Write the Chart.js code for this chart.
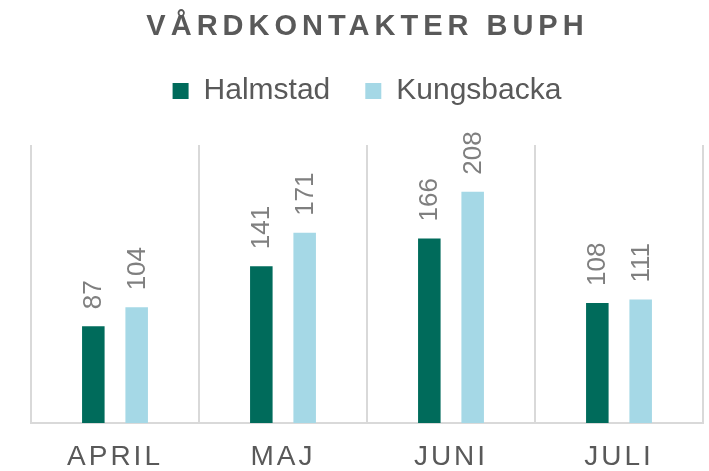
<!DOCTYPE html>
<html>
<head>
<meta charset="utf-8">
<script src="https://cdn.jsdelivr.net/npm/chart.js@4"></script>
<style>
  html, body { margin: 0; padding: 0; background: #fff; }
  #wrap { width: 709px; height: 471px; }
</style>
</head>
<body>
<div id="wrap"><canvas id="chart"></canvas></div>
<script>
// Data
const chartTitle = 'VÅRDKONTAKTER BUPH';
const months = ['APRIL', 'MAJ', 'JUNI', 'JULI'];
const seriesNames = ['Halmstad', 'Kungsbacka'];
const halmstad = [87, 141, 166, 108];
const kungsbacka = [104, 171, 208, 111];
const seriesColors = ['#006b5b', '#a5d8e6'];

const FONT = '"Liberation Sans", Arial, sans-serif';

// Rotated value labels, spaced month labels and the spaced title
const extrasPlugin = {
    id: 'extras',
    beforeLayout(chart) {
        // leave a gap between the legend and the plot
        const legend = chart.legend;
        if (legend && !legend._patched) {
            const fit = legend.fit;
            legend.fit = function () {
                fit.call(this);
                this.height += 29;
            };
            legend._patched = true;
        }
    },
    beforeDraw(chart) {
        chart.ctx.letterSpacing = '0px';
    },
    afterDatasetsDraw(chart) {
        const ctx = chart.ctx;
        ctx.save();
        ctx.font = '26px ' + FONT;
        ctx.fillStyle = '#7f7f7f';
        ctx.textAlign = 'left';
        ctx.textBaseline = 'middle';
        chart.data.datasets.forEach((ds, i) => {
            chart.getDatasetMeta(i).data.forEach((bar, j) => {
                ctx.save();
                ctx.translate(bar.x + 1, bar.y - 17);
                ctx.rotate(-Math.PI / 2);
                ctx.fillText(String(ds.data[j]), 0, 0);
                ctx.restore();
            });
        });
        ctx.restore();
        // month labels are drawn after this (ticks.z = 1)
        ctx.letterSpacing = '3px';
    },
    afterDraw(chart) {
        const ctx = chart.ctx;
        ctx.letterSpacing = '0px';
        ctx.save();
        ctx.font = 'bold 29px ' + FONT;
        ctx.letterSpacing = '5px';
        ctx.fillStyle = '#595959';
        ctx.textBaseline = 'middle';
        ctx.textAlign = 'left';
        const w = ctx.measureText(chartTitle).width - 5;
        ctx.fillText(chartTitle, 365 - w / 2, 27);
        ctx.restore();
        ctx.letterSpacing = '0px';
    }
};

new Chart(document.getElementById('chart'), {
    type: 'bar',
    data: {
        labels: months,
        datasets: [
            {
                label: seriesNames[0],
                data: halmstad,
                backgroundColor: seriesColors[0],
                borderWidth: 0,
                categoryPercentage: 0.516,
                barPercentage: 0.52
            },
            {
                label: seriesNames[1],
                data: kungsbacka,
                backgroundColor: seriesColors[1],
                borderWidth: 0,
                categoryPercentage: 0.516,
                barPercentage: 0.52
            }
        ]
    },
    options: {
        responsive: true,
        maintainAspectRatio: false,
        animation: false,
        layout: {
            padding: { top: 41, left: 31, right: 6, bottom: 0 }
        },
        plugins: {
            title: { display: false },
            tooltip: { enabled: false },
            legend: {
                position: 'top',
                labels: {
                    boxWidth: 16,
                    boxHeight: 16,
                    padding: 35,
                    color: '#595959',
                    font: { family: FONT, size: 30 }
                }
            }
        },
        scales: {
            x: {
                afterFit(scale) {
                    scale.height = 48;
                },
                grid: {
                    display: true,
                    offset: true,
                    drawTicks: false,
                    color: '#d9d9d9',
                    lineWidth: 2
                },
                border: { display: true, color: '#d9d9d9', width: 2 },
                ticks: {
                    z: 1,
                    padding: 20,
                    color: '#595959',
                    font: { family: FONT, size: 28, lineHeight: 1 }
                }
            },
            y: {
                display: false,
                min: 0,
                max: 250
            }
        }
    },
    plugins: [extrasPlugin]
});
</script>
</body>
</html>
